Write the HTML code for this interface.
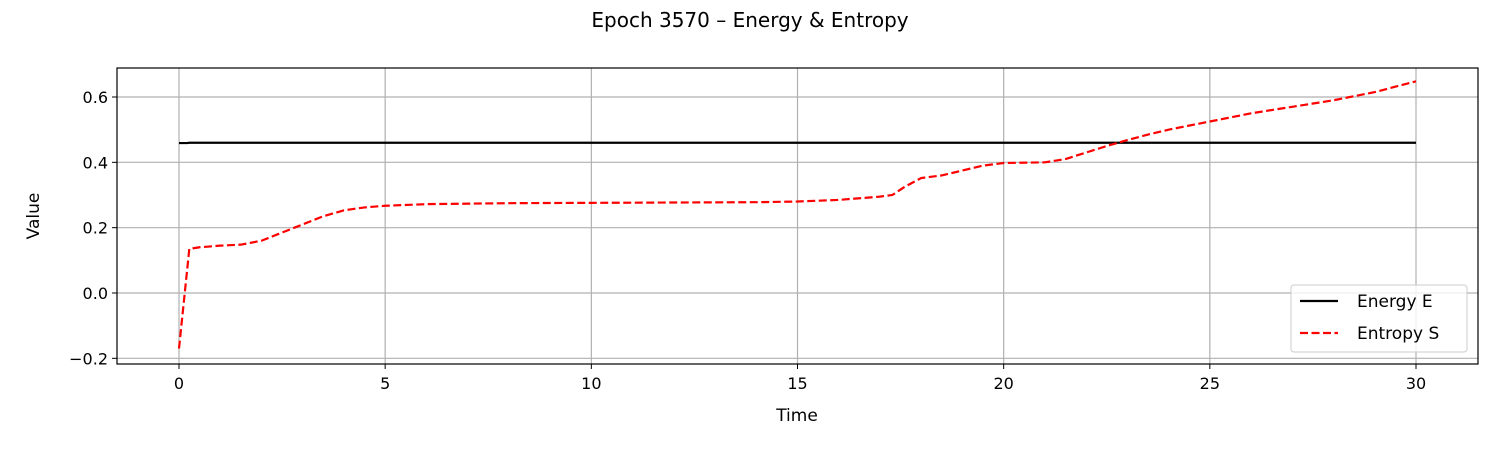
<!DOCTYPE html>
<html><head><meta charset="utf-8"><style>
body{margin:0;background:#fff;font-family:"Liberation Sans","DejaVu Sans",sans-serif;}
svg text{font-family:"DejaVu Sans","Liberation Sans",sans-serif;}
</style></head><body>
<svg id="chart" width="1500" height="450" xmlns="http://www.w3.org/2000/svg">
<text x="750" y="27" text-anchor="middle" font-size="20">Epoch 3570 – Energy &amp; Entropy</text>
<g id="grid"></g>
<g id="series"></g>
<rect x="117" y="68" width="1361" height="296" fill="none" stroke="#000" stroke-width="1.2"/>
<g id="ticks"></g>
<text x="797" y="421" text-anchor="middle" font-size="17">Time</text>
<text transform="translate(39,216) rotate(-90)" text-anchor="middle" font-size="17">Value</text>
<g>
<rect x="1291" y="285" width="176" height="67" rx="3" fill="#fff" fill-opacity="0.8" stroke="#ccc"/>
<line x1="1300" y1="301" x2="1338" y2="301" stroke="#000" stroke-width="2.2"/>
<text x="1357" y="307" font-size="17">Energy E</text>
<line x1="1300" y1="333" x2="1338" y2="333" stroke="red" stroke-width="2.2" stroke-dasharray="8,3.5"/>
<text x="1357" y="339" font-size="17">Entropy S</text>
</g>
</svg>
<script>
const xTicks=[0,5,10,15,20,25,30];
const yTicks=[-0.2,0,0.2,0.4,0.6];
const yTickLabels=["−0.2","0.0","0.2","0.4","0.6"];
const energyT=[0,0.2,0.25,30];
const energyV=[0.459,0.459,0.46,0.46];
const entropyT=[0,0.25,0.5,1,1.5,2,2.5,3,3.5,4,4.5,5,6,8,10,12,14,15,16,17,17.3,17.6,18,18.5,19,19.5,20,21,21.5,22,22.5,23,23.5,24,25,26,27,28,29,30];
const entropyV=[-0.17,0.135,0.14,0.145,0.148,0.16,0.185,0.21,0.235,0.253,0.262,0.267,0.272,0.275,0.276,0.277,0.278,0.28,0.285,0.295,0.3,0.325,0.352,0.36,0.375,0.39,0.398,0.4,0.41,0.43,0.45,0.468,0.485,0.5,0.525,0.55,0.57,0.59,0.615,0.648];
const X=t=>179+t*(1416-179)/30;
const Y=v=>293-v*(293-97)/0.6;
const NS="http://www.w3.org/2000/svg";
const grid=document.getElementById('grid'),ticks=document.getElementById('ticks'),ser=document.getElementById('series');
function mk(tag,attrs,parent){const e=document.createElementNS(NS,tag);for(const k in attrs)e.setAttribute(k,attrs[k]);parent.appendChild(e);return e;}
xTicks.forEach(t=>{const x=X(t);
 const g=mk('line',{x1:x,x2:x,y1:68,y2:364,stroke:'#b0b0b0','stroke-width':1.2},grid);
 
 
 mk('line',{x1:x,x2:x,y1:364,y2:369,stroke:'#000'},ticks);
 const tx=mk('text',{x:x,y:389,'text-anchor':'middle','font-size':16},ticks);tx.textContent=t;
 
 
});
yTicks.forEach((v,i)=>{const y=Y(v);
 const g=mk('line',{x1:117,x2:1478,y1:y,y2:y,stroke:'#b0b0b0','stroke-width':1.2},grid);
 
 
 mk('line',{x1:112,x2:117,y1:y,y2:y,stroke:'#000'},ticks);
 const tx=mk('text',{x:108,y:y+6,'text-anchor':'end','font-size':16},ticks);tx.textContent=yTickLabels[i];
 
 
});
const e=mk('polyline',{points:energyT.map((t,i)=>X(t)+','+Y(energyV[i])).join(' '),fill:'none',stroke:'#000','stroke-width':2.2},ser);


const s=mk('polyline',{points:entropyT.map((t,i)=>X(t)+','+Y(entropyV[i])).join(' '),fill:'none',stroke:'red','stroke-width':2.2,'stroke-dasharray':'8,3.5'},ser);


</script>
</body></html>
